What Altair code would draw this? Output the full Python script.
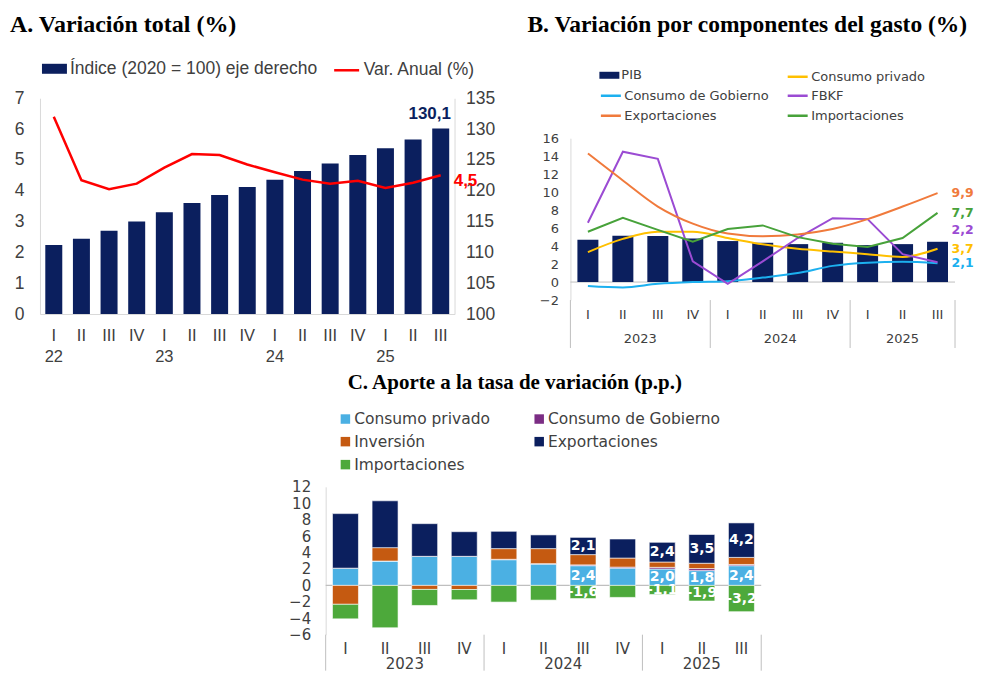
import altair as alt
import pandas as pd

# ---------------- texts ----------------
tituloA = "A.  Variación total (%)"
tituloB = "B.  Variación por componentes del gasto (%)"
tituloC = "C. Aporte a la tasa de variación (p.p.)"

# ---------------- Panel A data ----------------
trimA = ["I", "II", "III", "IV", "I", "II", "III", "IV", "I", "II", "III", "IV", "I", "II", "III"]
anioA = ["22"] * 4 + ["23"] * 4 + ["24"] * 4 + ["25"] * 3
indiceA = [111.2, 112.2, 113.5, 115.0, 116.5, 118.0, 119.3, 120.6, 121.8, 123.2, 124.4, 125.8, 126.9, 128.3, 130.1]
varA = [6.40, 4.34, 4.05, 4.23, 4.75, 5.19, 5.16, 4.85, 4.60, 4.36, 4.23, 4.32, 4.09, 4.26, 4.50]
serieA = ["Índice (2020 = 100) eje derecho", "Var. Anual (%)"]
baseIndiceA = 100

# ---------------- Panel B data ----------------
trimB = ["I", "II", "III", "IV", "I", "II", "III", "IV", "I", "II", "III"]
anioB = ["2023"] * 4 + ["2024"] * 4 + ["2025"] * 3
pibB = [4.71, 5.15, 5.11, 4.85, 4.56, 4.37, 4.22, 4.37, 4.11, 4.22, 4.48]
seriesB = ["Consumo privado", "Consumo de Gobierno", "FBKF", "Exportaciones", "Importaciones"]
consPrivB = [3.33, 4.8, 5.6, 5.6, 4.9, 4.2, 3.7, 3.4, 3.1, 2.8, 3.7]
consGobB = [-0.44, -0.6, -0.2, 0.0, 0.1, 0.5, 1.0, 1.8, 2.15, 2.25, 2.1]
fbkfB = [6.6, 14.5, 13.7, 2.3, -0.2, 2.3, 4.9, 7.1, 7.0, 3.1, 2.2]
exportB = [14.3, 11.3, 8.4, 6.5, 5.4, 5.1, 5.3, 5.9, 7.0, 8.4, 9.9]
importB = [5.6, 7.15, 5.8, 4.5, 5.9, 6.3, 5.0, 4.26, 3.9, 4.9, 7.7]
valoresB = [consPrivB, consGobB, fbkfB, exportB, importB]

# ---------------- Panel C data ----------------
trimC = trimB
anioC = anioB
compC = ["Consumo privado", "Consumo de Gobierno", "Inversión", "Exportaciones", "Importaciones"]
consPrivC = [2.1, 2.97, 3.54, 3.54, 3.13, 2.6, 2.4, 2.11, 2.0, 1.8, 2.4]
consGobC = [0.0, 0.0, 0.0, 0.0, 0.05, 0.05, 0.1, 0.12, 0.2, 0.25, 0.15]
invC = [-2.3, 1.63, -0.49, -0.5, 1.3, 1.83, 1.25, 1.1, 0.65, 0.65, 0.86]
exportC = [6.64, 5.7, 3.98, 3.0, 2.11, 1.67, 2.1, 2.32, 2.4, 3.5, 4.2]
importC = [-1.77, -5.16, -1.95, -1.25, -2.03, -1.79, -1.6, -1.46, -1.1, -1.9, -3.2]
valoresC = [consPrivC, consGobC, invC, exportC, importC]
etiquetaC = [False, False, False, False, False, False, True, False, True, True, True]
compEtiquetados = ["Consumo privado", "Exportaciones", "Importaciones"]

# ---------------- styles ----------------
NAVY = "#0b1f5e"
RED = "#ff0000"
coloresB = ["#ffc000", "#1cb0ef", "#9b4bd3", "#f07a3c", "#47a23a"]
coloresC = ["#4bb0e3", "#7b2d84", "#c55a11", "#0b1f5e", "#4da93b"]
SANS = "Liberation Sans"
SANS_B = "DejaVu Sans"
SERIF = "Liberation Serif"
TXT = "#404040"
AXC = "#d9d9d9"
SEP = "#bfbfbf"


def fmt(v):
    return f"{v:.1f}".replace(".", ",")


def grupos(anios):
    bounds, centers, labels = [-0.5], [], []
    start = 0
    for i in range(1, len(anios) + 1):
        if i == len(anios) or anios[i] != anios[start]:
            bounds.append(i - 0.5)
            centers.append((start + i - 1) / 2)
            labels.append(anios[start])
            start = i
    return pd.DataFrame({"bx": bounds}), pd.DataFrame({"c": centers, "anio": labels})


# ======================= Panel A =======================
nA = len(trimA)
WA, HA = 415, 216
dfA = pd.DataFrame({"idx": list(range(nA)), "trim": trimA, "anio": anioA,
                    "indice": indiceA, "var": varA})
dfA["sBar"] = serieA[0]
dfA["sLin"] = serieA[1]
dfA["labI"] = [fmt(v) for v in indiceA]
dfA["labV"] = [fmt(v) for v in varA]

xA = alt.X("idx:Q", scale=alt.Scale(domain=[-0.5, nA - 0.5], nice=False, zero=False, padding=0),
           axis=alt.Axis(labels=False, ticks=False, grid=False, title=None, domainColor=AXC))
axKwA = dict(ticks=False, grid=False, title=None, domainColor=AXC, labelColor=TXT,
             labelFont=SANS, labelFontSize=17.5)
yBarA = alt.Y("indice:Q", scale=alt.Scale(domain=[100, 135], nice=False, zero=False),
              axis=alt.Axis(orient="right", values=list(range(100, 136, 5)), labelPadding=11, **axKwA))
yLinA = alt.Y("var:Q", scale=alt.Scale(domain=[0, 7], nice=False),
              axis=alt.Axis(orient="left", values=list(range(0, 8)), labelPadding=16, **axKwA))

legKwA = dict(title=None, orient="none", legendY=-42, padding=0, symbolSize=625, labelFont=SANS,
              labelFontSize=17.5, labelColor=TXT, labelOffset=3, labelLimit=400)
baseA = alt.Chart(dfA)
barsA = baseA.mark_bar(size=17).encode(
    x=xA, y=yBarA, y2=alt.datum(baseIndiceA),
    color=alt.Color("sBar:N", scale=alt.Scale(domain=[serieA[0]], range=[NAVY]),
                    legend=alt.Legend(legendX=2, symbolType="M-1,-0.4H1V0.4H-1Z",
                                      symbolStrokeWidth=0, **legKwA)))
labIA = baseA.transform_filter(alt.datum.idx == nA - 1).mark_text(
    dx=-11, dy=-14, font=SANS, fontSize=17, fontWeight="bold", color=NAVY
).encode(x=xA, y=yBarA, text="labI:N")
lineA = baseA.mark_line(strokeWidth=2.5).encode(
    x=xA, y=yLinA,
    color=alt.Color("sLin:N", scale=alt.Scale(domain=[serieA[1]], range=[RED]),
                    legend=alt.Legend(legendX=293, symbolType="stroke", symbolStrokeWidth=2.5,
                                      **legKwA)))
labVA = baseA.transform_filter(alt.datum.idx == nA - 1).mark_text(
    align="left", dx=13, dy=6, font=SANS, fontSize=17, fontWeight="bold", color=RED
).encode(x=xA, y=yLinA, text="labV:N")
quartA = baseA.mark_text(font=SANS, fontSize=16.5, color=TXT).encode(
    x=xA, y=alt.value(238), text="trim:N")
yearsA = baseA.transform_filter(alt.datum.trim == "I").mark_text(
    font=SANS, fontSize=16.5, color=TXT).encode(x=xA, y=alt.value(259), text="anio:N")
titleA = alt.Chart(pd.DataFrame({"t": [tituloA]})).mark_text(
    align="left", baseline="alphabetic", font=SERIF, fontSize=24, fontWeight="bold", color="black"
).encode(x=alt.value(-30), y=alt.value(-66), text="t:N")

chartA = alt.layer(
    alt.layer(barsA, labIA), alt.layer(lineA, labVA), quartA, yearsA, titleA
).resolve_scale(y="independent", color="independent").properties(width=WA, height=HA)

# ======================= Panel B =======================
nB = len(trimB)
WB, HB = 385, 202
dfBw = pd.DataFrame({"idx": list(range(nB)), "trim": trimB, "anio": anioB, "valor": pibB})
dfBw["serie"] = "PIB"
rows = []
for s, vals in zip(seriesB, valoresB):
    for i, v in enumerate(vals):
        rows.append({"idx": i, "serie": s, "valor": v, "lab": fmt(v)})
dfBl = pd.DataFrame(rows)
sepB, yrB = grupos(anioB)

scXB = alt.Scale(domain=[-0.5, nB - 0.5], nice=False, zero=False, padding=0)
scYB = alt.Scale(domain=[-2, 16], range=[HB, 40], nice=False, zero=False)
axYB = alt.Axis(values=list(range(-2, 17, 2)), ticks=False, grid=False, title=None, domainColor=AXC,
                labelColor=TXT, labelFont=SANS_B, labelFontSize=13, labelPadding=12)


def xB(f="idx"):
    return alt.X(f"{f}:Q", scale=scXB, axis=None)


def yB(f="valor"):
    return alt.Y(f"{f}:Q", scale=scYB, axis=axYB)


legPosB = [(29, -33), (216, -33), (29, -14), (216, -14), (29, 6), (216, 6)]


def legB(k, bar=False):
    x, y = legPosB[k]
    kw = dict(title=None, orient="none", legendX=x, legendY=y, padding=0, labelFont=SANS_B,
              labelFontSize=13, labelColor=TXT, labelOffset=2, labelLimit=300, symbolSize=400)
    if bar:
        kw.update(symbolType="M-1,-0.35H1V0.35H-1Z", symbolStrokeWidth=0)
    else:
        kw.update(symbolType="stroke", symbolStrokeWidth=2.5)
    return alt.Legend(**kw)


zeroB = alt.Chart(pd.DataFrame({"z": [0]})).mark_rule(color=SEP, strokeWidth=1).encode(y=yB("z"))
sepLinesB = alt.Chart(sepB).mark_rule(color=SEP, strokeWidth=1).encode(
    x=xB("bx"), y=alt.value(HB), y2=alt.value(HB + 48))
barsB = alt.Chart(dfBw).mark_bar(size=21).encode(
    x=xB(), y=yB(), y2=alt.datum(0),
    color=alt.Color("serie:N", scale=alt.Scale(domain=["PIB"], range=[NAVY]), legend=legB(0, True)))
layersB = [zeroB, sepLinesB, barsB]
interpB = ["monotone", "monotone", "linear", "monotone", "linear"]
dyB = [0, 0, -32, 0, 0]
for k, s in enumerate(seriesB):
    layersB.append(
        alt.Chart(dfBl).transform_filter(alt.datum.serie == s).mark_line(
            strokeWidth=2, interpolate=interpB[k]).encode(
            x=xB(), y=yB(),
            color=alt.Color("serie:N", scale=alt.Scale(domain=[s], range=[coloresB[k]]),
                            legend=legB(k + 1))))
for k, s in enumerate(seriesB):
    layersB.append(
        alt.Chart(dfBl).transform_filter((alt.datum.serie == s) & (alt.datum.idx == nB - 1)).mark_text(
            align="left", dx=14, dy=dyB[k], font=SANS_B, fontSize=12.5, fontWeight="bold",
            color=coloresB[k]).encode(x=xB(), y=yB(), text="lab:N"))
quartB = alt.Chart(dfBw).mark_text(font=SANS_B, fontSize=13, color=TXT).encode(
    x=xB(), y=alt.value(HB + 15), text="trim:N")
yearsB = alt.Chart(yrB).mark_text(font=SANS_B, fontSize=13, color=TXT).encode(
    x=xB("c"), y=alt.value(HB + 39), text="anio:N")
titleB = alt.Chart(pd.DataFrame({"t": [tituloB]})).mark_text(
    align="left", baseline="alphabetic", font=SERIF, fontSize=23.5, fontWeight="bold", color="black"
).encode(x=alt.value(-43), y=alt.value(-66), text="t:N")
layersB += [quartB, yearsB, titleB]
chartB = alt.layer(*layersB).resolve_scale(color="independent").properties(width=WB, height=HB)

# ======================= Panel C =======================
# The view of C shares its left edge with panel A's plot; its plot starts OFFC px further right.
nC = len(trimC)
OFFC = 286
WC, HC = 436, 148
rows = []
for o, (c, vals) in enumerate(zip(compC, valoresC)):
    for i, v in enumerate(vals):
        rows.append({"idx": i, "comp": c, "ord": o, "valor": v, "lab": fmt(v),
                     "show": bool(etiquetaC[i] and c in compEtiquetados)})
dfC = pd.DataFrame(rows)
dfCq = pd.DataFrame({"idx": list(range(nC)), "trim": trimC})
sepC, yrC = grupos(anioC)
# legend is laid out column by column: order entries so rows read as in the original
ordenLeyendaC = [0, 2, 4, 1, 3]
domLegC = [compC[i] for i in ordenLeyendaC]
colLegC = [coloresC[i] for i in ordenLeyendaC]

scXC = alt.Scale(domain=[-0.5, nC - 0.5], range=[OFFC, OFFC + WC], nice=False, zero=False, padding=0)
scYC = alt.Scale(domain=[-6, 12], nice=False, zero=False)
axYC = alt.Axis(values=list(range(-6, 13, 2)), ticks=False, grid=False, title=None, domainColor=AXC,
                labelColor=TXT, labelFont=SANS_B, labelFontSize=15, labelPadding=15, offset=-OFFC)


def xC(f="idx"):
    return alt.X(f"{f}:Q", scale=scXC, axis=None)


def yC(f):
    return alt.Y(f"{f}:Q", scale=scYC, axis=axYC)


stackC = alt.Chart(dfC).transform_stack(
    stack="valor", as_=["v0", "v1"], groupby=["idx"],
    sort=[alt.SortField("ord", order="ascending")], offset="zero"
).transform_calculate(mid="(datum.v0 + datum.v1) / 2")

zeroC = alt.Chart(pd.DataFrame({"z": [0]})).mark_rule(color=SEP, strokeWidth=1.2).encode(
    y=yC("z"), x=alt.value(OFFC), x2=alt.value(OFFC + WC))
barsC = stackC.mark_bar(size=26, stroke="white", strokeWidth=0.6).encode(
    x=xC(), y=yC("v0"), y2="v1:Q",
    color=alt.Color("comp:N", scale=alt.Scale(domain=domLegC, range=colLegC),
                    legend=alt.Legend(title=None, orient="none", legendX=OFFC + 12, legendY=-76,
                                      columns=2, columnPadding=41, rowPadding=6, padding=0,
                                      symbolType="square", symbolSize=90, symbolStrokeWidth=0,
                                      labelFont=SANS_B, labelFontSize=15.5, labelColor=TXT,
                                      labelOffset=1, labelLimit=300)))
labC = stackC.transform_filter(alt.datum.show).mark_text(
    font=SANS_B, fontSize=14, fontWeight="bold", color="white").encode(
    x=xC(), y=yC("mid"), text="lab:N")
sepLinesC = alt.Chart(sepC).mark_rule(color=SEP, strokeWidth=1).encode(
    x=xC("bx"), y=alt.value(HC), y2=alt.value(HC + 36))
quartC = alt.Chart(dfCq).mark_text(font=SANS_B, fontSize=15, color=TXT).encode(
    x=xC(), y=alt.value(HC + 14), text="trim:N")
yearsC = alt.Chart(yrC).mark_text(font=SANS_B, fontSize=15, color=TXT).encode(
    x=xC("c"), y=alt.value(HC + 29), text="anio:N")
titleC = alt.Chart(pd.DataFrame({"t": [tituloC]})).mark_text(
    align="left", baseline="alphabetic", font=SERIF, fontSize=21, fontWeight="bold", color="black"
).encode(x=alt.value(OFFC + 22), y=alt.value(-98), text="t:N")

chartC = alt.layer(zeroC, barsC, labC, sepLinesC, quartC, yearsC, titleC).properties(
    width=OFFC + WC, height=HC)

# ======================= Layout =======================
top = alt.hconcat(chartA, chartB, spacing=32).resolve_scale(color="independent")
chart = alt.vconcat(top, chartC, spacing=6).resolve_scale(color="independent").properties(
    padding={"left": 2, "top": 5, "right": 0, "bottom": 0}
).configure_view(stroke=None)

chart.save("out.html", embed_options={"renderer": "svg", "actions": False})
